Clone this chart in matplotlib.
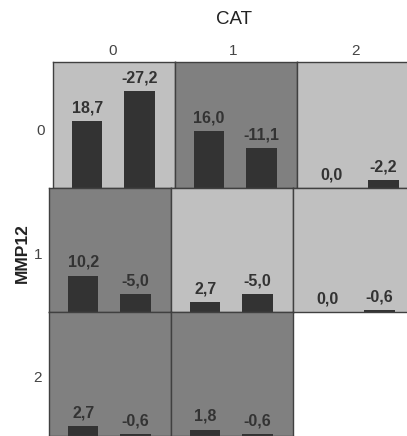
import matplotlib
matplotlib.use('Agg')
import matplotlib.pyplot as plt

plt.rcParams['font.family'] = ['Liberation Sans', 'DejaVu Sans']

# Data: one list of (first, second) pairs per MMP12 row, CAT columns 0..2
row_labels = ['0', '1', '2']
col_labels = ['0', '1', '2']
first_vals = [[18.7, 16.0, 0.0],
              [10.2, 2.7, 0.0],
              [2.7, 1.8, None]]
second_vals = [[-27.2, -11.1, -2.2],
               [-5.0, -5.0, -0.6],
               [-0.6, -0.6, None]]
cell_shade = [['#c0c0c0', '#808080', '#c0c0c0'],
              ['#808080', '#c0c0c0', '#c0c0c0'],
              ['#808080', '#808080', None]]

W, H = 407, 436
fig = plt.figure(figsize=(W / 100, H / 100), dpi=100)

# pixel layout of the grid (row 0 is shifted a little to the right)
row_left = [53, 49, 49]
row_top = [62, 188, 312]
row_h = [126, 124, 124]
cell_w = 122
px_per_unit = 3.56
bar_color = '#333333'
edge_color = '#404040'


def add_cell(x0, y0, w, h):
    ax = fig.add_axes([x0 / W, 1 - (y0 + h) / H, w / W, h / H])
    return ax


for r in range(3):
    for c in range(3):
        x0 = row_left[r] + c * cell_w
        ax = add_cell(x0, row_top[r], cell_w, row_h[r])
        ax.set_xlim(-0.651, 1.675)
        ax.set_ylim(0, row_h[r] / px_per_unit)
        ax.set_xticks([])
        ax.set_yticks([])
        if cell_shade[r][c] is None:
            ax.axis('off')
            continue
        ax.set_facecolor(cell_shade[r][c])
        for s in ax.spines.values():
            s.set_color(edge_color)
            s.set_linewidth(1)
        vals = [first_vals[r][c], second_vals[r][c]]
        heights = [abs(v) for v in vals]
        ax.bar([0, 1], heights, width=0.58, color=bar_color, zorder=2)
        for i, v in enumerate(vals):
            txt = ('%.1f' % v).replace('.', ',')
            ax.annotate(txt, (i, heights[i]), xytext=(0, 4.2),
                        textcoords='offset points', ha='center', va='bottom',
                        fontsize=11.5, fontweight='bold', color='#333333')

# column / row category labels
col_x = [113, 233, 355]
for lab, x in zip(col_labels, col_x):
    fig.text(x / W, 1 - 50.5 / H, lab, ha='center', va='center',
             fontsize=11, color='#444444')
row_y = [131, 255, 378]
row_x = [41, 38.5, 38]
for lab, x, y in zip(row_labels, row_x, row_y):
    fig.text(x / W, 1 - y / H, lab, ha='center', va='center',
             fontsize=11, color='#444444')

fig.text(234 / W, 1 - 19 / H, 'CAT', ha='center', va='center',
         fontsize=13.5, color='#222222')
fig.text(22 / W, 1 - 253 / H, 'MMP12', ha='center', va='center',
         rotation=90, fontsize=12.5, fontweight='bold', color='#222222')

plt.savefig('out.png', dpi=100)
